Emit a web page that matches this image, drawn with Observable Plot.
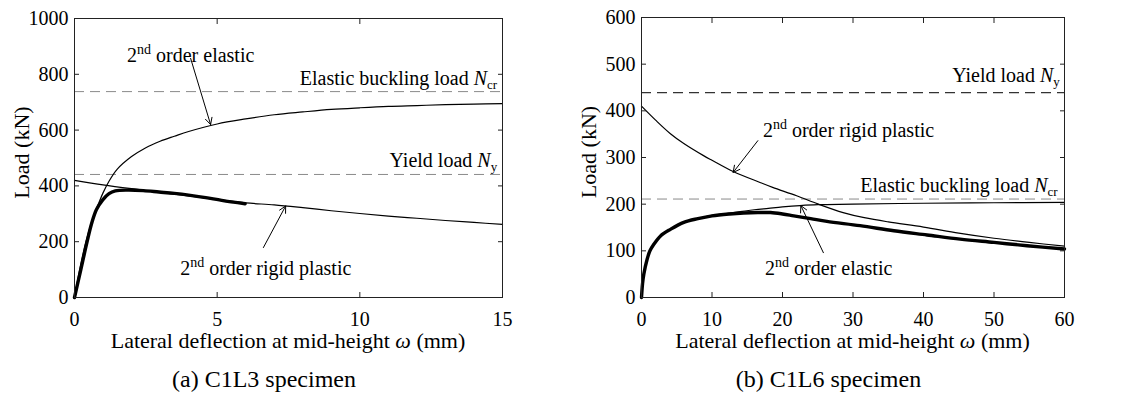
<!DOCTYPE html>
<html><head><meta charset="utf-8">
<script src="https://cdn.jsdelivr.net/npm/d3@7"></script>
<script src="https://cdn.jsdelivr.net/npm/@observablehq/plot@0.6"></script>
<style>
body{margin:0;background:#fff;}
#wrap{display:flex;width:1125px;height:401px;overflow:hidden;}
svg{display:block;}
</style></head><body><div id="wrap"></div>
<script>
// ---------- Data: (a) C1L3 specimen ----------
const aXTicks = [0, 5, 10, 15];
const aYTicks = [0, 200, 400, 600, 800, 1000];
const aElasticW = [0, 0.2, 0.4, 0.6, 0.8, 1.0, 1.2, 1.5, 2.0, 2.5, 3.0, 3.5, 4.0, 5.0, 6.0, 7.0, 8.0, 9.0, 10, 11, 12, 13, 14, 15];
const aElasticN = [0, 110, 200, 270, 325, 375, 415, 460, 505, 537, 560, 578, 595, 622, 640, 655, 665, 674, 680, 685, 688, 691, 693, 695];
const aRigidW = [0, 1, 2, 3, 4, 5, 6, 7, 8, 9, 10, 11, 12, 13, 14, 15];
const aRigidN = [420, 404, 390, 377, 364, 351, 339, 332, 322, 311, 301, 292, 284, 276, 269, 262];
const aTestW = [0, 0.2, 0.44, 0.6, 0.77, 0.99, 1.21, 1.43, 1.86, 2.41, 2.96, 3.5, 4.06, 4.6, 5.16, 5.98];
const aTestN = [0, 90, 199, 265, 315, 350, 372, 382, 385, 383, 378, 373, 366, 358, 348, 336];
const aYieldLoad = 441;
const aBucklingLoad = 738;

// ---------- Data: (b) C1L6 specimen ----------
const bXTicks = [0, 10, 20, 30, 40, 50, 60];
const bYTicks = [0, 100, 200, 300, 400, 500, 600];
const bElasticW = [0, 0.15, 0.33, 0.8, 1.2, 1.75, 2.7, 4.1, 6, 8, 10, 12, 14, 16, 18, 20, 22.5, 25, 30, 40, 50, 60];
const bElasticN = [0, 30, 50, 82, 100, 114, 132, 146, 161, 169, 176, 180, 184, 188, 191, 194, 197, 199, 200, 202, 203, 204];
const bRigidW = [0, 2, 4.1, 6, 8.8, 10, 13, 16.9, 18.6, 22, 25.1, 28.6, 31.6, 35, 40, 45, 50, 55, 60];
const bRigidN = [410, 380, 351, 330, 304, 294, 270, 246, 236, 218, 200, 182, 171, 162, 151, 138, 127, 118, 110];
const bTestW = [0, 0.15, 0.33, 0.8, 1.2, 1.75, 2.7, 4.1, 6, 8, 10, 12.5, 14.5, 16.5, 18.3, 20, 21.6, 24, 26.3, 31, 35.8, 40.5, 45.2, 50, 54.7, 60];
const bTestN = [0, 30, 50, 82, 100, 114, 132, 146, 161, 169, 175, 179, 181, 182, 182, 179, 175, 169, 163, 154, 143, 134, 125, 118, 111, 104];
const bYieldLoad = 439;
const bBucklingLoad = 211;

// ---------- Text ----------
const FONT = "Liberation Serif";
const xLabelParts = [["Lateral deflection at mid-height ", ""], ["ω", "i"], [" (mm)", ""]];
const yLabelText = "Load (kN)";
const sup2nd = (rest) => [["2", ""], ["nd", "sup"], [rest, ""]];
const ncrParts = [["Elastic buckling load ", ""], ["N", "i"], ["cr", "sub"]];
const nyParts = [["Yield load ", ""], ["N", "i"], ["y", "sub"]];

const aAnnotations = [
  {x: 1.86, y: 842, anchor: "start", parts: sup2nd(" order elastic")},
  {x: 3.72, y: 79, anchor: "start", parts: sup2nd(" order rigid plastic")},
  {x: 14.83, y: 760, anchor: "end", parts: ncrParts},
  {x: 14.83, y: 466, anchor: "end", parts: nyParts}
];
const aArrows = [
  {x1: 4.07, y1: 857, x2: 4.77, y2: 620},
  {x1: 6.62, y1: 179, x2: 7.4, y2: 328}
];
const bAnnotations = [
  {x: 59.4, y: 461, anchor: "end", parts: nyParts},
  {x: 17.3, y: 343, anchor: "start", parts: sup2nd(" order rigid plastic")},
  {x: 59.1, y: 225, anchor: "end", parts: ncrParts},
  {x: 17.6, y: 47, anchor: "start", parts: sup2nd(" order elastic")}
];
const bArrows = [
  {x1: 16.5, y1: 336, x2: 13.0, y2: 268},
  {x1: 25.8, y1: 96, x2: 22.6, y2: 197}
];

function addParts(t, parts) {
  let shift = 0;
  for (const [s, kind] of parts) {
    const sp = t.append("tspan").text(s);
    let target = 0;
    if (kind === "sup") { sp.attr("font-size", 14); target = -8; }
    else if (kind === "sub") { sp.attr("font-size", 13); target = 4; }
    else if (kind === "i") sp.attr("font-style", "italic");
    if (target !== shift) { sp.attr("dy", target - shift); shift = target; }
  }
}

function richText(items) {
  return (index, scales) => {
    const g = d3.create("svg:g").attr("font-family", FONT).attr("font-size", 20).attr("fill", "black").style("white-space", "pre");
    for (const it of items) {
      const t = g.append("text").attr("x", scales.x(it.x)).attr("y", scales.y(it.y)).attr("text-anchor", it.anchor);
      addParts(t, it.parts);
    }
    return g.node();
  };
}

function frameTexts(caption, yLabelCenterShift) {
  return (index, scales, values, dims) => {
    const {width, height, marginLeft, marginRight, marginTop, marginBottom} = dims;
    const cx = (marginLeft + width - marginRight) / 2;
    const cy = (marginTop + height - marginBottom) / 2;
    const g = d3.create("svg:g").attr("font-family", FONT).attr("fill", "black").style("white-space", "pre");
    const xl = g.append("text").attr("font-size", 22).attr("x", cx).attr("y", height - marginBottom + 51).attr("text-anchor", "middle");
    addParts(xl, xLabelParts);
    g.append("text").attr("font-size", 22).attr("transform", `translate(${marginLeft - 45},${cy - yLabelCenterShift}) rotate(-90)`)
      .attr("text-anchor", "middle").text(yLabelText);
    g.append("text").attr("font-size", 24).attr("x", cx - 24).attr("y", height - 14).attr("text-anchor", "middle").text(caption);
    return g.node();
  };
}

function panel(cfg) {
  const fmt = d => String(d);
  return Plot.plot({
    width: cfg.width, height: 401,
    marginLeft: cfg.ml, marginRight: cfg.mr, marginTop: cfg.mt, marginBottom: 104,
    x: {domain: cfg.xDomain},
    y: {domain: cfg.yDomain},
    style: {fontFamily: FONT, fontSize: "20px", color: "black", background: "white"},
    marks: [
      Plot.ruleY([cfg.yield], {stroke: cfg.yieldColor, strokeWidth: cfg.yieldWidth, strokeDasharray: "10,6"}),
      Plot.ruleY([cfg.buckling], {stroke: "#8a8a8a", strokeWidth: 1, strokeDasharray: "10,6"}),
      Plot.line(cfg.elasticW, {x: cfg.elasticW, y: cfg.elasticN, stroke: "black", strokeWidth: 1.2, curve: "catmull-rom"}),
      Plot.line(cfg.rigidW, {x: cfg.rigidW, y: cfg.rigidN, stroke: "black", strokeWidth: 1.2, curve: "catmull-rom"}),
      Plot.line(cfg.testW, {x: cfg.testW, y: cfg.testN, stroke: "black", strokeWidth: 3.4, curve: "catmull-rom"}),
      Plot.arrow(cfg.arrows, {x1: "x1", y1: "y1", x2: "x2", y2: "y2", stroke: "black", strokeWidth: 1, headLength: 11, headAngle: 55}),
      Plot.frame({stroke: "#222", strokeWidth: 1}),
      Plot.axisX({anchor: "bottom", ticks: cfg.xTicks, tickSize: -5, tickPadding: 19, tickFormat: fmt, label: null, stroke: "#222"}),
      Plot.axisX({anchor: "top", ticks: cfg.xTicks, tickSize: -5, tickFormat: () => "", label: null, stroke: "#222"}),
      Plot.axisY({anchor: "left", ticks: cfg.yTicks, tickSize: -5, tickPadding: 11, tickFormat: fmt, label: null, stroke: "#222"}),
      Plot.axisY({anchor: "right", ticks: cfg.yTicks, tickSize: -5, tickFormat: () => "", label: null, stroke: "#222"}),
      richText(cfg.annotations),
      frameTexts(cfg.caption, 5)
    ]
  });
}

const wrap = document.getElementById("wrap");
wrap.append(panel({
  width: 562, ml: 74, mr: 60, mt: 18,
  xDomain: [0, 15], yDomain: [0, 1000], xTicks: aXTicks, yTicks: aYTicks,
  elasticW: aElasticW, elasticN: aElasticN, rigidW: aRigidW, rigidN: aRigidN, testW: aTestW, testN: aTestN,
  yield: aYieldLoad, buckling: aBucklingLoad, yieldColor: "#8a8a8a", yieldWidth: 1,
  annotations: aAnnotations, arrows: aArrows, caption: "(a) C1L3 specimen"
}));
wrap.append(panel({
  width: 563, ml: 79, mr: 61, mt: 17,
  xDomain: [0, 60], yDomain: [0, 600], xTicks: bXTicks, yTicks: bYTicks,
  elasticW: bElasticW, elasticN: bElasticN, rigidW: bRigidW, rigidN: bRigidN, testW: bTestW, testN: bTestN,
  yield: bYieldLoad, buckling: bBucklingLoad, yieldColor: "#333", yieldWidth: 1.2,
  annotations: bAnnotations, arrows: bArrows, caption: "(b) C1L6 specimen"
}));
</script></body></html>
